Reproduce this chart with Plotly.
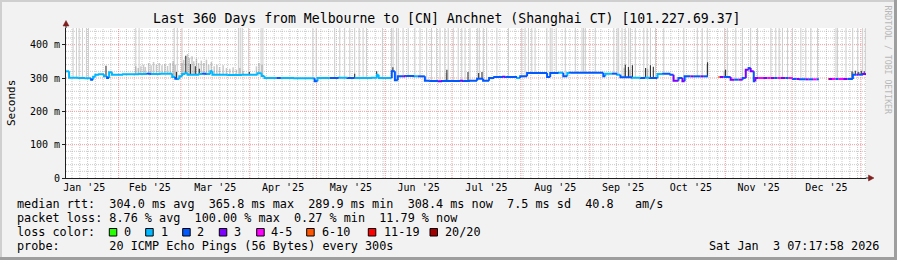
import numpy as np
import pandas as pd
import plotly.graph_objects as go

# ---------------------------------------------------------------- data
BASE = pd.Timestamp("2025-01-01 00:00:00")
T_START = pd.Timestamp("2025-01-08 07:17:58")
T_END = pd.Timestamp("2026-01-03 07:17:58")
Y_MAX = 450

TITLE = "Last 360 Days from Melbourne to [CN] Anchnet (Shanghai CT) [101.227.69.37]"

month_starts = ["2025-01-01", "2025-02-01", "2025-03-01", "2025-04-01", "2025-05-01",
                "2025-06-01", "2025-07-01", "2025-08-01", "2025-09-01", "2025-10-01",
                "2025-11-01", "2025-12-01", "2026-01-01"]
month_labels = ["Jan '25", "Feb '25", "Mar '25", "Apr '25", "May '25", "Jun '25",
                "Jul '25", "Aug '25", "Sep '25", "Oct '25", "Nov '25", "Dec '25"]

y_tick_vals = [0, 100, 200, 300, 400]
y_tick_text = ["0", "100 m", "200 m", "300 m", "400 m"]

loss_classes = ["0", "1", "2", "3", "4-5", "6-10", "11-19", "20/20"]
loss_colors = ["#26ff00", "#00b8ff", "#0059ff", "#7e00ff", "#ff00ff", "#ff5500", "#ff0000", "#a10000"]

# median rtt (ms), step series: day offset from 2025-01-01, value, loss class
med_day = [7.3, 8.7, 13.0, 16.0, 18.6, 19.5, 20.5, 22.2, 24.4, 25.8, 26.7, 28.0, 33.0, 40.2,
           44.0, 45.5, 50.0, 55.1, 56.5, 57.4, 58.3, 59.6, 61.0, 62.0, 67.3, 69.0, 70.5, 72.3,
           73.2, 80.0, 86.7, 93.5, 95.3, 96.6, 102.0, 104.0, 110.0, 119.2, 120.5, 126.0, 130.0,
           134.0, 137.2, 145.0, 147.2, 148.0, 153.9, 155.3, 156.6, 159.0, 160.0, 164.0, 165.5,
           168.8, 171.0, 175.0, 176.5, 181.0, 185.0, 186.0, 189.1, 192.3, 195.0, 197.7, 200.0,
           204.0, 205.0, 210.3, 211.7, 214.8, 223.8, 225.2, 229.0, 231.1, 232.9, 234.2, 249.1,
           250.0, 253.0, 255.4, 256.8, 262.0, 266.0, 268.0, 270.0, 273.5, 276.0, 279.3, 280.7,
           282.9, 284.7, 285.7, 288.3, 289.5, 292.9, 294.0, 296.2, 300.9, 301.5, 303.2, 306.4,
           308.0, 310.0, 311.8, 313.2, 314.5, 315.4, 316.8, 317.5, 319.0, 321.0, 323.0, 324.4,
           326.0, 327.5, 329.0, 331.0, 332.5, 334.4, 336.0, 337.5, 340.2, 341.5, 343.5, 345.0,
           346.1, 350.2, 350.6, 352.0, 353.5, 355.0, 357.0, 359.0, 361.4, 363.0, 364.0, 366.0]
med_ms = [320, 301, 300, 299, 295, 304, 310, 311, 305, 300, 317, 310, 311, 312,
          313, 312, 313, 303, 298, 297, 305, 312, 314, 310, 312, 313, 312, 320,
          310, 309, 310, 314, 306, 300, 300, 300, 299, 290, 300, 300, 301,
          300, 300, 301, 310, 300, 320, 293, 305, 305, 306, 305, 305,
          292, 291, 290, 291, 291, 292, 291, 292, 298, 292, 300, 303,
          304, 303, 300, 305, 315, 303, 315, 316, 305, 315, 316, 305,
          313, 313, 310, 302, 301, 300, 301, 300, 312, 313, 310, 292,
          300, 290, 305, 305, 305, 305, 305, None, 303, 303, 303, 295,
          295, 295, 300, 325, 330, 320, 290, 300, 300, 300, 300, 300,
          300, 300, 300, 300, 300, 297, 297, 296, 296, 296, 296, 296,
          None, 297, 297, 297, 297, 297, 297, 297, 310, 310, 310, 312]
med_loss = ["1", "1", "1", "1", "2", "1", "1", "1", "1", "2", "1", "1", "1", "1",
            "2", "1", "1", "1", "2", "1", "1", "1", "1", "1", "1", "2", "1", "1",
            "1", "1", "1", "1", "1", "1", "2", "1", "1", "2", "1", "2", "1",
            "2", "1", "1", "1", "1", "2", "2", "2", "3", "2", "1", "2",
            "2", "2", "3", "2", "2", "3", "2", "2", "2", "2", "2", "2",
            "3", "2", "1", "2", "2", "2", "2", "1", "2", "1", "2", "2",
            "1", "2", "1", "2", "1", "2", "1", "2", "1", "2", "2", "3",
            "2", "3", "2", "3", "2", "3", "2", "", "6-10", "3", "2", "3",
            "2", "3", "2", "3", "2", "3", "2", "3", "4-5", "3", "4-5", "3",
            "2", "4-5", "3", "2", "4-5", "2", "3", "2", "3", "2", "4-5", "2",
            "", "6-10", "3", "4-5", "2", "4-5", "3", "2", "2", "3", "2", "3"]

# light smoke strokes that run off the top of the graph (day offsets)
spike_day = [10.5, 12.0, 13.2, 14.7, 16.5, 17.4, 38.7, 40.2, 56.0, 57.4, 59.5, 84.9, 85.7,
             86.6, 89.5, 95.1, 95.9, 118.4, 119.9, 128.2, 130.5, 132.7, 135.0, 137.2, 139.2,
             141.0, 142.5, 149.7, 153.8, 154.5, 156.0, 156.8, 159.0, 161.3, 164.3, 166.6,
             169.6, 171.8, 174.1, 175.6, 177.8, 179.3, 181.6, 183.8, 185.4, 186.9, 189.1,
             192.4, 193.3, 195.1, 196.6, 201.2, 206.4, 212.4, 213.9, 215.4, 216.9, 218.4,
             223.7, 225.2, 226.0, 227.9, 232.0, 236.5, 239.5, 240.2, 241.0, 245.5, 253.8,
             255.3, 256.0, 257.5, 259.0, 260.5, 261.3, 263.5, 267.3, 268.8, 270.3, 272.6,
             276.3, 285.3, 291.4, 293.6, 295.9, 303.7, 304.9, 308.7, 311.7, 315.4, 318.5,
             324.5, 326.7, 328.2, 329.7, 332.0, 334.2, 338.0, 340.2, 342.5, 345.5, 353.8,
             354.5, 358.3, 361.3, 363.6, 365.8, 367.0]

# grey smoke strokes (day offset, top ms)
smoke_mid_day = [38.7, 39.8, 41.0, 42.2, 43.0, 44.5, 45.6, 46.7, 48.0, 49.3, 50.5, 51.8, 53.0,
                 54.2, 55.5, 56.5, 59.5, 60.3, 62.0, 62.8, 64.0, 64.8, 66.0, 67.0, 68.2, 69.3,
                 70.5, 71.5, 72.7, 74.0, 75.2, 76.4, 78.0, 79.5, 81.0, 82.5, 84.0, 85.5, 87.0,
                 93.0, 94.2, 95.5, 154.0, 178.5, 258.5, 261.0, 269.0, 295.8, 303.5, 361.5, 364.5]
smoke_mid_top = [335, 330, 335, 340, 333, 345, 338, 348, 340, 345, 338, 342, 336,
                 345, 350, 340, 345, 355, 372, 360, 365, 350, 358, 345, 352, 345,
                 355, 340, 348, 335, 340, 333, 338, 330, 328, 332, 325, 330, 322,
                 335, 345, 340, 325, 315, 330, 325, 328, 340, 322, 318, 318]

# dark smoke cores (day offset, top ms)
smoke_dark_day = [25.3, 57.0, 61.2, 63.3, 65.5, 67.3, 72.7, 89.8, 137.2, 147.1, 154.4, 178.7,
                  188.2, 193.0, 194.5, 259.0, 260.4, 262.2, 268.1, 270.3, 271.6, 296.0, 304.1,
                  361.0, 362.5, 363.8, 365.2, 366.5]
smoke_dark_top = [337, 318, 367, 342, 335, 328, 322, 318, 313, 320, 332, 325,
                  318, 315, 318, 340, 333, 338, 330, 338, 334, 347, 325,
                  320, 322, 318, 322, 320]

rtt_values = ["304.0 ms avg", "365.8 ms max", "289.9 ms min", "308.4 ms now", "7.5 ms sd", "40.8   am/s"]
loss_values = ["8.76 % avg", "100.00 % max", "0.27 % min", "11.79 % now"]
probe_text = "20 ICMP Echo Pings (56 Bytes) every 300s"
stamp_text = "Sat Jan  3 07:17:58 2026"
watermark = "RRDTOOL / TOBI OETIKER"

# ---------------------------------------------------------------- helpers
MONO = "DejaVu Sans Mono"
L, T, W, H = 66, 28, 800, 150
FIG_W, FIG_H = 897, 260


def px(x):
    return (x - L) / W


def py(y):
    return (T + H - y) / H


def ts(d):
    return BASE + pd.Timedelta(days=float(d))


def nb(s):
    return s.replace(" ", "\u00a0")


end_day = (T_END - BASE) / pd.Timedelta(days=1)


def median_at(d):
    idx = int(np.searchsorted(np.array(med_day), d, side="right")) - 1
    idx = max(idx, 0)
    while idx > 0 and med_ms[idx] is None:
        idx -= 1
    return med_ms[idx]


fig = go.Figure()

# tall light smoke
xs, ys = [], []
for d in spike_day:
    xs += [ts(d), ts(d), None]
    ys += [median_at(d), Y_MAX, None]
fig.add_trace(go.Scatter(x=xs, y=ys, mode="lines", line=dict(color="#cdcdcd", width=1),
                         hoverinfo="skip", connectgaps=False))

# mid smoke
xs, ys = [], []
for d, t in zip(smoke_mid_day, smoke_mid_top):
    xs += [ts(d), ts(d), None]
    ys += [median_at(d), t, None]
fig.add_trace(go.Scatter(x=xs, y=ys, mode="lines", line=dict(color="rgba(120,120,120,0.4)", width=1.5),
                         hoverinfo="skip", connectgaps=False))

# dark smoke
xs, ys = [], []
for d, t in zip(smoke_dark_day, smoke_dark_top):
    xs += [ts(d), ts(d), None]
    ys += [median_at(d), t, None]
fig.add_trace(go.Scatter(x=xs, y=ys, mode="lines", line=dict(color="#333333", width=1.1),
                         hoverinfo="skip", connectgaps=False))

# median line coloured by loss
segs = {c: ([], []) for c in loss_classes}
for i, (d, v, c) in enumerate(zip(med_day, med_ms, med_loss)):
    if v is None:
        continue
    d2 = med_day[i + 1] if i + 1 < len(med_day) else end_day
    pv = med_ms[i - 1] if i > 0 and med_ms[i - 1] is not None else v
    sx, sy = segs[c]
    sx += [ts(d), ts(d), ts(d2), None]
    sy += [pv, v, v, None]
for c, col in zip(loss_classes, loss_colors):
    sx, sy = segs[c]
    if sx:
        fig.add_trace(go.Scatter(x=sx, y=sy, mode="lines", line=dict(color=col, width=2),
                                 hoverinfo="skip", connectgaps=False))

# ---------------------------------------------------------------- grid
GRID = "rgba(150,150,150,0.5)"
MGRID = "rgba(222,79,79,0.55)"
shapes = []
for y in range(20, Y_MAX, 20):
    if y % 100 == 0:
        continue
    shapes.append(dict(type="line", xref="paper", yref="y", x0=0, x1=1, y0=y, y1=y,
                       line=dict(color=GRID, width=1, dash="1px,1px"), layer="below"))
for y in y_tick_vals[1:]:
    shapes.append(dict(type="line", xref="paper", yref="y", x0=0, x1=1, y0=y, y1=y,
                       line=dict(color=MGRID, width=1, dash="1px,1px"), layer="below"))
month_ts = [pd.Timestamp(m) for m in month_starts]
for t in pd.date_range("2025-01-11 00:00", T_END, freq="84h"):
    if t <= T_START:
        continue
    if min(abs((t - m) / pd.Timedelta(days=1)) for m in month_ts) < 1.0:
        continue
    shapes.append(dict(type="line", xref="x", yref="y", x0=t, x1=t, y0=0, y1=Y_MAX,
                       line=dict(color=GRID, width=1, dash="1px,1px"), layer="below"))
for m in month_ts:
    if T_START < m < T_END:
        shapes.append(dict(type="line", xref="x", yref="y", x0=m, x1=m, y0=0, y1=Y_MAX,
                           line=dict(color=MGRID, width=1, dash="1px,1px"), layer="below"))

# axis extensions and arrows
AX = "#1f1f1f"
ARROW = "#801f1f"
shapes.append(dict(type="line", xref="paper", yref="paper", x0=px(L), x1=px(L), y0=py(T), y1=py(24),
                   line=dict(color=AX, width=1)))
shapes.append(dict(type="line", xref="paper", yref="paper", x0=px(L + W), x1=px(869), y0=0, y1=0,
                   line=dict(color=AX, width=1)))
shapes.append(dict(type="path", xref="paper", yref="paper",
                   path=f"M {px(L)},{py(20.5)} L {px(L - 3)},{py(26)} L {px(L + 3)},{py(26)} Z",
                   fillcolor=ARROW, line=dict(color=ARROW, width=0.5)))
shapes.append(dict(type="path", xref="paper", yref="paper",
                   path=f"M {px(874)},{py(T + H)} L {px(868.5)},{py(T + H - 3)} L {px(868.5)},{py(T + H + 3)} Z",
                   fillcolor=ARROW, line=dict(color=ARROW, width=0.5)))

# 3D frame
shapes.append(dict(type="rect", xref="paper", yref="paper", x0=px(0), x1=px(FIG_W), y0=py(0), y1=py(2),
                   fillcolor="#cfcfcf", line=dict(width=0)))
shapes.append(dict(type="rect", xref="paper", yref="paper", x0=px(0), x1=px(2), y0=py(0), y1=py(FIG_H),
                   fillcolor="#cfcfcf", line=dict(width=0)))
shapes.append(dict(type="rect", xref="paper", yref="paper", x0=px(0), x1=px(FIG_W), y0=py(FIG_H - 3), y1=py(FIG_H),
                   fillcolor="#9e9e9e", line=dict(width=0)))
shapes.append(dict(type="rect", xref="paper", yref="paper", x0=px(FIG_W - 3), x1=px(FIG_W), y0=py(0), y1=py(FIG_H),
                   fillcolor="#9e9e9e", line=dict(width=0)))

# legend swatches
swatch_left = [109.3, 145.7, 182.7, 219.3, 256.7, 306.7, 368.3, 430.0]
swatch_label_left = [123.0, 160.0, 196.7, 233.3, 270.0, 321.7, 383.3, 444.7]
for xl, col in zip(swatch_left, loss_colors):
    shapes.append(dict(type="rect", xref="paper", yref="paper", x0=px(xl), x1=px(xl + 7.5),
                       y0=py(236), y1=py(228.5), fillcolor=col, line=dict(color="#000000", width=1)))

# ---------------------------------------------------------------- text
ann = []


def text(s, x, y, size, xanchor="left", yanchor="middle", color="#000000", angle=0):
    ann.append(dict(text=nb(s), x=px(x), y=py(y), xref="paper", yref="paper", showarrow=False,
                    xanchor=xanchor, yanchor=yanchor, textangle=angle,
                    font=dict(family=MONO, size=size, color=color), borderpad=0))


text(TITLE, 447, 19, 13.2, xanchor="center")
text("median rtt:  " + "  ".join(rtt_values), 15.5, 204, 11.8)
text("packet loss: " + "  ".join(loss_values), 15.5, 218, 11.8)
text("loss color:", 15.5, 232, 11.8)
for xl, lab in zip(swatch_label_left, loss_classes):
    text(lab, xl - 0.5, 232, 11.8)
text("probe:       " + probe_text, 15.5, 246, 11.8)
text(stamp_text, 880, 246, 11.8, xanchor="right")
text("Seconds", 11, 103, 11, xanchor="center", angle=-90)
text(watermark, 887.5, 60, 8.2, xanchor="center", color="#b8b8b8", angle=90)

mid_month = [pd.Timestamp(a) + (pd.Timestamp(b) - pd.Timestamp(a)) / 2
             for a, b in zip(month_starts[:-1], month_starts[1:])]

fig.update_layout(
    width=FIG_W, height=FIG_H, autosize=False,
    margin=dict(l=L, r=FIG_W - L - W, t=T, b=FIG_H - T - H, pad=0),
    paper_bgcolor="#f2f2f2", plot_bgcolor="#ffffff", showlegend=False,
    shapes=shapes, annotations=ann,
    xaxis=dict(type="date", range=[T_START, T_END], showgrid=False, zeroline=False,
               tickmode="array", tickvals=mid_month, ticktext=month_labels, ticks="",
               showline=True, linecolor=AX, linewidth=1, fixedrange=True,
               tickfont=dict(family=MONO, size=10, color="#000000")),
    yaxis=dict(range=[0, Y_MAX], showgrid=False, zeroline=False, tickmode="array",
               tickvals=y_tick_vals, ticktext=y_tick_text, ticks="outside", ticklen=3,
               tickcolor=AX, showline=True, linecolor=AX, linewidth=1, fixedrange=True,
               tickfont=dict(family=MONO, size=10, color="#000000")),
)

fig.write_html("out.html")
